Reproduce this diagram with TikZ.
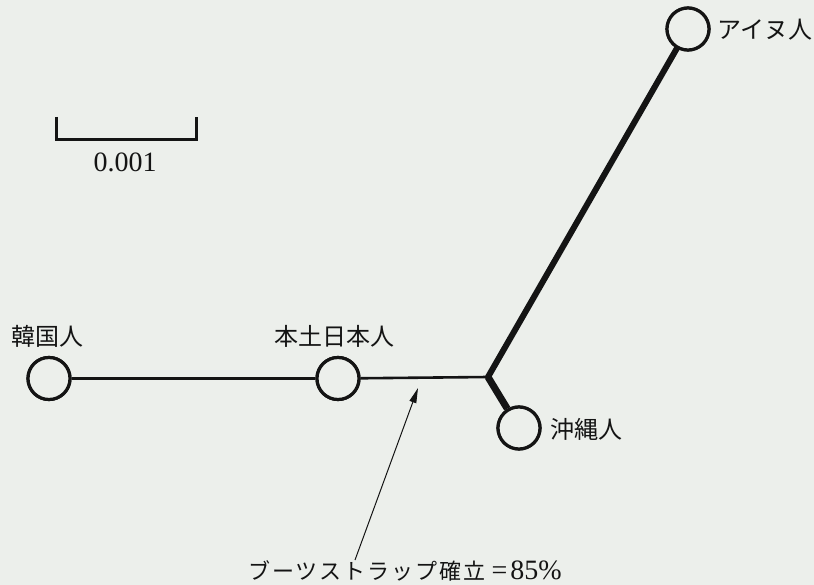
\documentclass[tikz,border=0pt]{standalone}
\usepackage{fontspec}
\setmainfont{Liberation Serif}
\newfontfamily\jp{Noto Sans CJK JP}
\newfontfamily\jpsp[LetterSpace=9]{Noto Sans CJK JP}
\usetikzlibrary{arrows.meta}
\definecolor{bg}{RGB}{236,239,235}
\definecolor{ink}{RGB}{20,20,20}
\tikzset{
  taxon/.style={circle,draw=ink,line width=3.2pt,fill=bg,minimum size=42pt,inner sep=0pt},
  lbl/.style={font=\jp\fontsize{24}{26}\selectfont,text=ink,inner sep=0pt},
  branch/.style={draw=ink},
}
\begin{document}
\begin{tikzpicture}[x=1pt,y=-1pt]
\fill[bg] (0,0) rectangle (814,585);
\useasboundingbox (0,0) rectangle (814,585);
% junction
\coordinate (j) at (488,377);
\node[taxon] (kor) at (49,378.5) {};
\node[taxon] (hon) at (338,378.5) {};
\node[taxon] (oki) at (519,428) {};
\node[taxon] (ain) at (688,29) {};
\draw[branch,line width=3pt] (kor) -- (hon);
\draw[branch,line width=2.6pt] (hon) -- (j);
\draw[branch,line width=6pt,line cap=round] (j) -- (ain);
\draw[branch,line width=7pt] (j) -- (oki);
% redraw circles on top
\node[taxon] at (49,378.5) {};
\node[taxon] at (338,378.5) {};
\node[taxon] at (519,428) {};
\node[taxon] at (688,29) {};
% labels
\node[lbl,anchor=west] (tkor) at (11,336) {韓国人};
\node[lbl,anchor=west] (thon) at (274,336) {本土日本人};
\node[lbl,anchor=west] (toki) at (550,429) {沖縄人};
\node[lbl,anchor=west] (tain) at (717,30) {アイヌ人};
% scale bar
\coordinate (s1) at (56,117);
\coordinate (s2) at (196,117);
\draw[ink,line width=3pt] (s1) -- ++(0,23) -| (s2);
\node[font=\fontsize{28}{30}\selectfont,text=ink,inner sep=0pt] (scl) at (125,162) {0.001};
% bootstrap annotation
\node[text=ink,inner sep=0pt,anchor=west] (boot) at (248,571) {{\jpsp\fontsize{22}{24}\selectfont ブーツストラップ確立}\hspace{6pt}{\fontsize{28}{30}\selectfont =\hspace{3pt}85\%}};
\coordinate (tail) at (355,560);
\coordinate (head) at (418,388);
\draw[ink,line width=1pt,-{Triangle[length=15pt,width=7pt]}] (tail) -- (head);
\end{tikzpicture}
\end{document}
